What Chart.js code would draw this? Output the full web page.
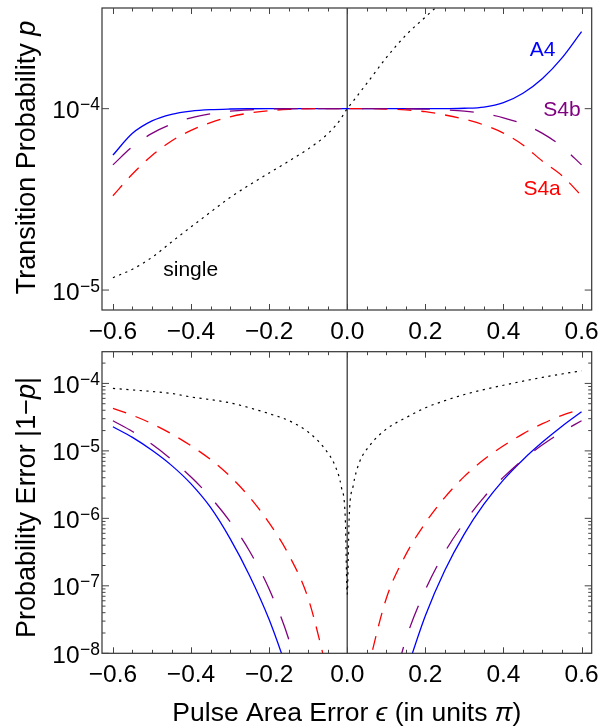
<!DOCTYPE html>
<html>
<head>
<meta charset="utf-8">
<script src="https://cdn.jsdelivr.net/npm/chart.js@4.4.1/dist/chart.umd.min.js"></script>
<style>
    html, body { margin: 0; padding: 0; background: #fff; }
    #wrap { position: relative; width: 600px; height: 727px; }
    canvas { position: absolute; left: 0; }
    #topChart { top: 0; }
    #bottomChart { top: 340px; }
</style>
</head>
<body>
<div id="wrap">
    <canvas id="topChart" width="600" height="340"></canvas>
    <canvas id="bottomChart" width="600" height="387"></canvas>
</div>
<script>
// pulse area error (units of pi)
const eps = [-0.6, -0.55, -0.5, -0.45, -0.4, -0.35, -0.3, -0.25, -0.2, -0.15, -0.1, -0.05, 0,
             0.05, 0.1, 0.15, 0.2, 0.25, 0.3, 0.35, 0.4, 0.45, 0.5, 0.55, 0.6];
// finer grid for the single pulse, which has a cusp at 0
const epsSingle = [-0.6, -0.55, -0.5, -0.45, -0.4, -0.35, -0.3, -0.25, -0.2, -0.15, -0.1, -0.06, -0.03, -0.015, -0.005, 0,
                   0.005, 0.015, 0.03, 0.06, 0.1, 0.15, 0.2, 0.25, 0.3, 0.35, 0.4, 0.45, 0.5, 0.55, 0.6];

// transition probability p
const a4P = [5.55e-5, 7.31e-5, 8.56e-5, 9.31e-5, 9.7e-5, 9.885e-5, 9.96e-5, 9.99e-5, 1e-4, 1e-4, 1e-4, 1e-4, 1e-4,
             1e-4, 1e-4, 1e-4, 1e-4, 1.001e-4, 1.005e-4, 1.021e-4, 1.079e-4, 1.216e-4, 1.466e-4, 1.905e-4, 2.66e-4];
const s4aP = [3.31e-5, 4.365e-5, 5.52e-5, 6.64e-5, 7.59e-5, 8.38e-5, 9.02e-5, 9.46e-5, 9.75e-5, 9.91e-5, 9.98e-5, 1e-4, 1e-4,
              1e-4, 9.95e-5, 9.84e-5, 9.62e-5, 9.23e-5, 8.75e-5, 8.13e-5, 7.33e-5, 6.31e-5, 5.13e-5, 4.27e-5, 3.31e-5];
const s4bP = [4.9e-5, 6.17e-5, 7.31e-5, 8.22e-5, 8.91e-5, 9.38e-5, 9.69e-5, 9.86e-5, 9.95e-5, 9.99e-5, 1e-4, 1e-4, 1e-4,
              1e-4, 1e-4, 9.99e-5, 9.95e-5, 9.86e-5, 9.69e-5, 9.38e-5, 8.91e-5, 8.22e-5, 7.31e-5, 6.17e-5, 4.9e-5];
const singleP = [1.17e-5, 1.303e-5, 1.514e-5, 1.84e-5, 2.23e-5, 2.69e-5, 3.24e-5, 3.8e-5, 4.42e-5, 5.13e-5, 6.0e-5, 6.95e-5, 8.05e-5, 8.9e-5, 9.64e-5, 1e-4,
                 1.033e-4, 1.1e-4, 1.21e-4, 1.47e-4, 1.91e-4, 2.54e-4, 3.2e-4, 4.0e-4, null, null, null, null, null, null, null];

// probability error |1-p|
const a4Err = [2.28e-5, 1.585e-5, 1.02e-5, 6.1e-6, 3.24e-6, 1.45e-6, 5.0e-7, 1.41e-7, 3.16e-8, 5e-9, null, null, null,
               null, null, 5.1e-9, 3.6e-8, 1.7e-7, 5.9e-7, 1.62e-6, 3.72e-6, 7.4e-6, 1.35e-5, 2.32e-5, 3.8e-5];
const s4aErr = [4.26e-5, 3.37e-5, 2.53e-5, 1.79e-5, 1.19e-5, 7.45e-6, 4.19e-6, 2.05e-6, 8.55e-7, 2.9e-7, 6.5e-8, 5.1e-9, null,
                5.1e-9, 6.5e-8, 2.9e-7, 8.55e-7, 2.05e-6, 4.19e-6, 7.45e-6, 1.19e-5, 1.79e-5, 2.53e-5, 3.37e-5, 4.15e-5];
const s4bErr = [2.8e-5, 1.94e-5, 1.25e-5, 7.45e-6, 4.09e-6, 2.05e-6, 8.95e-7, 3.25e-7, 8.95e-8, 1.63e-8, 1.3e-9, null, null,
                null, 1.3e-9, 1.6e-8, 8.7e-8, 3.17e-7, 8.73e-7, 2.05e-6, 4.08e-6, 7.43e-6, 1.23e-5, 1.91e-5, 2.8e-5];
const singleErr = [8.43e-5, 8.0e-5, 7.6e-5, 7.1e-5, 6.3e-5, 5.75e-5, 5.15e-5, 4.35e-5, 3.56e-5, 2.82e-5, 1.9e-5, 1.12e-5, 5.8e-6, 2.9e-6, 1.0e-6, 7.5e-8,
                   1.05e-6, 3.0e-6, 6.5e-6, 1.25e-5, 2.1e-5, 3.1e-5, 4.35e-5, 5.55e-5, 6.85e-5, 8.1e-5, 9.4e-5, 1.08e-4, 1.23e-4, 1.38e-4, 1.54e-4];

// axis ticks
const xTickLabels = [-0.6, -0.4, -0.2, 0, 0.2, 0.4, 0.6];
const pDecades = [-5, -4];
const errDecades = [-8, -7, -6, -5, -4];

// curve labels in the upper panel
const curveNames = ['A4', 'S4b', 'S4a', 'single'];
const curveColors = ['#0000ff', '#800080', '#ff0000', '#000000'];
const nameEps = [0.5, 0.55, 0.499, -0.401];
const nameP = [2.11e-4, 9.84e-5, 3.59e-5, 1.29e-5];

const FONT = '"Liberation Sans", Arial, "DejaVu Sans", sans-serif';
const BLUE = '#0000ff', RED = '#ff0000', PURPLE = '#800080';

function series(xs, ys, color, dash, width) {
    return {
        data: xs.map((e, i) => ({ x: e, y: ys[i] })),
        borderColor: color,
        borderWidth: width || 1.3,
        borderDash: dash,
        borderCapStyle: 'butt',
        pointRadius: 0,
        fill: false,
        spanGaps: false,
        cubicInterpolationMode: 'monotone'
    };
}

function minus(s) { return s.replace('-', '\u2212'); }

// draws a run of text pieces, some of them italic, centred on x
function richText(ctx, parts, x, y, size) {
    let total = 0;
    parts.forEach(p => {
        ctx.font = (p.it ? 'italic ' : '') + size + 'px ' + FONT;
        p.w = ctx.measureText(p.t).width;
        total += p.w;
    });
    let cx = x - total / 2;
    parts.forEach(p => {
        ctx.font = (p.it ? 'italic ' : '') + size + 'px ' + FONT;
        ctx.fillText(p.t, cx, y);
        cx += p.w;
    });
}

// frame, inward ticks, tick labels, titles
const framePlugin = {
    id: 'frame',
    beforeDatasetsDraw(chart) {
        const { ctx, chartArea: a, scales: { x } } = chart;
        const x0 = x.getPixelForValue(0);
        ctx.save();
        ctx.strokeStyle = '#555';
        ctx.lineWidth = 1.5;
        ctx.beginPath();
        ctx.moveTo(x0, a.top);
        ctx.lineTo(x0, a.bottom);
        ctx.stroke();
        ctx.restore();
    },
    afterDraw(chart, args, opts) {
        const { ctx, chartArea: a, scales: { x, y } } = chart;
        ctx.save();
        ctx.strokeStyle = '#333';
        ctx.lineWidth = 1.2;
        ctx.strokeRect(a.left, a.top, a.right - a.left, a.bottom - a.top);

        ctx.lineWidth = 1;
        ctx.strokeStyle = '#444';
        const tick = (x1, y1, x2, y2) => {
            ctx.beginPath(); ctx.moveTo(x1, y1); ctx.lineTo(x2, y2); ctx.stroke();
        };

        // x ticks every 0.05, longer every 0.2
        for (let i = -12; i <= 12; i++) {
            const px = Math.round(x.getPixelForValue(i * 0.05)) + 0.5;
            const len = i % 4 === 0 ? 6 : 3.5;
            tick(px, a.bottom, px, a.bottom - len);
            tick(px, a.top, px, a.top + len);
        }

        // y ticks: decades, plus 2..9 when asked for
        opts.decades.forEach(k => {
            const py = y.getPixelForValue(Math.pow(10, k));
            tick(a.left, py, a.left + 7, py);
            tick(a.right, py, a.right - 7, py);
        });
        if (opts.minor) {
            for (let k = opts.decades[0]; k <= opts.decades[opts.decades.length - 1]; k++) {
                for (let m = 2; m <= 9; m++) {
                    const v = m * Math.pow(10, k);
                    if (v > y.max) continue;
                    const py = y.getPixelForValue(v);
                    tick(a.left, py, a.left + 3.5, py);
                    tick(a.right, py, a.right - 3.5, py);
                }
            }
        }

        ctx.fillStyle = '#000';
        ctx.textBaseline = 'alphabetic';

        // x tick labels
        ctx.font = '24.5px ' + FONT;
        ctx.textAlign = 'center';
        xTickLabels.forEach(v => {
            ctx.fillText(minus(v.toFixed(1)), x.getPixelForValue(v), a.bottom + 29);
        });

        // y tick labels 10^k
        ctx.textAlign = 'left';
        opts.decades.forEach(k => {
            const py = y.getPixelForValue(Math.pow(10, k));
            const ex = minus(String(k));
            ctx.font = '17.5px ' + FONT;
            const we = ctx.measureText(ex).width;
            ctx.font = '24.5px ' + FONT;
            const wb = ctx.measureText('10').width;
            const x1 = a.left - 2 - we;
            ctx.fillText('10', x1 - wb - 0.5, py + 9.5);
            ctx.font = '17.5px ' + FONT;
            ctx.fillText(ex, x1, py + 1.5);
        });

        // rotated y title
        ctx.save();
        ctx.translate(35, (a.top + a.bottom) / 2 + (opts.yTitleShift || 0));
        ctx.rotate(-Math.PI / 2);
        richText(ctx, opts.yTitle, 0, 0, 27);
        ctx.restore();

        // x title
        if (opts.xTitle) {
            richText(ctx, opts.xTitle, (a.left + a.right) / 2, a.bottom + 68, 26.5);
        }

        // curve names
        if (opts.names) {
            ctx.font = '21px ' + FONT;
            ctx.textAlign = 'center';
            ctx.textBaseline = 'middle';
            curveNames.forEach((n, i) => {
                ctx.fillStyle = curveColors[i];
                ctx.fillText(n, x.getPixelForValue(nameEps[i]), y.getPixelForValue(nameP[i]));
            });
        }
        ctx.restore();
    }
};

function xScale(height) {
    return {
        type: 'linear', min: -0.628, max: 0.626,
        grid: { display: false }, border: { display: false }, ticks: { display: false },
        afterFit(s) { s.height = height; }
    };
}

function yScale(lo, hi) {
    return {
        type: 'logarithmic', min: Math.pow(10, lo), max: Math.pow(10, hi),
        grid: { display: false }, border: { display: false }, ticks: { display: false },
        afterFit(s) { s.width = 102; }
    };
}

const dotted = [2.2, 4.5];
const shortDash = [14, 10];
const longDash = [24, 20];

new Chart(document.getElementById('topChart'), {
    type: 'line',
    data: {
        datasets: [
            series(eps, s4bP, PURPLE, longDash),
            series(eps, s4aP, RED, shortDash),
            series(eps, a4P, BLUE, []),
            series(epsSingle, singleP, '#000', dotted, 1.2)
        ]
    },
    options: {
        responsive: false,
        animation: false,
        layout: { padding: { left: 0, right: 8.3, top: 8, bottom: 0 } },
        plugins: {
            legend: { display: false },
            tooltip: { enabled: false },
            frame: {
                decades: pDecades,
                minor: false,
                yTitle: [{ t: 'Transition Probability ' }, { t: 'p', it: true }],
                yTitleShift: -1.5,
                names: true
            }
        },
        scales: { x: xScale(30), y: yScale(-5.11, -3.445) }
    },
    plugins: [framePlugin]
});

new Chart(document.getElementById('bottomChart'), {
    type: 'line',
    data: {
        datasets: [
            series(eps, s4bErr, PURPLE, longDash),
            series(eps, s4aErr, RED, shortDash),
            series(eps, a4Err, BLUE, []),
            series(epsSingle, singleErr, '#000', dotted, 1.2)
        ]
    },
    options: {
        responsive: false,
        animation: false,
        layout: { padding: { left: 0, right: 8.3, top: 11.7, bottom: 0 } },
        plugins: {
            legend: { display: false },
            tooltip: { enabled: false },
            frame: {
                decades: errDecades,
                minor: true,
                yTitle: [{ t: 'Probability Error |1\u2212' }, { t: 'p', it: true }, { t: '|' }],
                yTitleShift: 5,
                xTitle: [{ t: 'Pulse Area Error ' }, { t: '\u03f5', it: true }, { t: ' (in units ' }, { t: '\u03c0', it: true }, { t: ')' }]
            }
        },
        scales: { x: xScale(73.7), y: yScale(-8, -3.53) }
    },
    plugins: [framePlugin]
});
</script>
</body>
</html>
